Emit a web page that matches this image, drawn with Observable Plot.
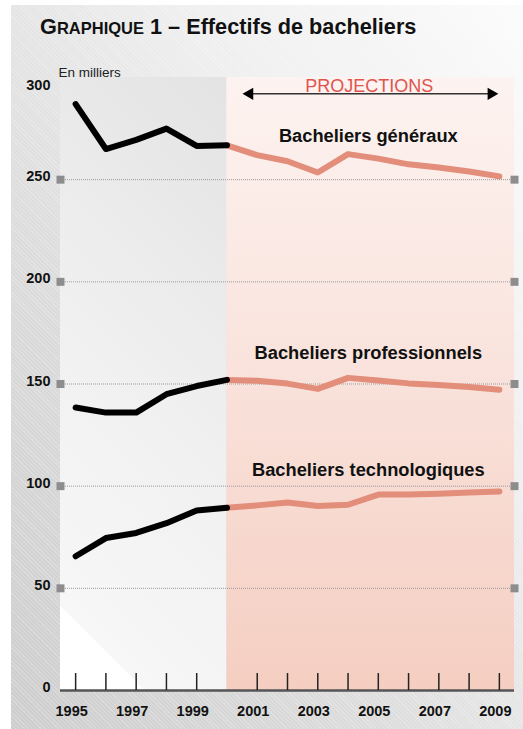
<!DOCTYPE html>
<html><head><meta charset="utf-8">
<script src="https://cdn.jsdelivr.net/npm/d3@7"></script>
<script src="https://cdn.jsdelivr.net/npm/@observablehq/plot@0.6"></script>
<style>
body{margin:0;background:#fff;}
#wrap{position:relative;width:523px;height:729px;overflow:hidden;font-family:"Liberation Sans",Arial,sans-serif;}
#panel{position:absolute;left:11px;top:5px;right:0;bottom:0;
 background: repeating-linear-gradient(45deg, rgba(255,255,255,0.22) 0 1px, rgba(255,255,255,0) 1px 3px),
             linear-gradient(to top right, #cdcdcd 0%, #dcdcdc 35%, #eeeeee 65%, #fbfbfb 100%);}
#title{position:absolute;left:40px;top:15px;font-weight:bold;font-size:21.7px;line-height:24px;color:#111;white-space:nowrap;}
#title .sc{font-size:16.5px;}
#chart{position:absolute;left:0;top:40px;}
</style></head>
<body>
<div id="wrap">
 <div id="panel"></div>
 <div id="title">G<span class="sc">RAPHIQUE</span> 1 – Effectifs de bacheliers</div>
 <div id="chart"></div>
</div>
<script>
// ---- data ----
const years = [1995,1996,1997,1998,1999,2000,2001,2002,2003,2004,2005,2006,2007,2008,2009];
const projectionStart = 2000;
const generaux       = [287, 265, 269.5, 275, 266.5, 266.8, 262, 259, 253.5, 262.5, 260.3, 257.5, 256, 254, 251.6];
const professionnels = [138.5, 136, 136, 145, 149, 152, 151.6, 150.2, 147.6, 153, 151.7, 150.3, 149.5, 148.5, 147.2];
const technologiques = [65.7, 74.6, 77.1, 81.9, 88.1, 89.4, 90.6, 92, 90.3, 90.9, 95.9, 95.9, 96.3, 96.9, 97.4];
const seriesNames = ["Bacheliers généraux", "Bacheliers professionnels", "Bacheliers technologiques"];
const gridValues = [50, 100, 150, 200, 250];
const yTickLabels = [0, 50, 100, 150, 200, 250];
const yTopLabel = [300];
const xTickYears = [1995,1996,1997,1998,1999,2001,2002,2003,2004,2005,2006,2007,2008,2009];
const xLabelYears = [1995,1997,1999,2001,2003,2005,2007,2009];
const unitLabel = "En milliers";
const projLabel = "PROJECTIONS";

// ---- table ----
const seriesValues = [generaux, professionnels, technologiques];
const data = [];
seriesNames.forEach((name, s) => years.forEach((yr, i) => data.push({serie: name, year: yr, value: seriesValues[s][i]})));
const hist = data.filter(d => d.year <= projectionStart);
const proj = data.filter(d => d.year >= projectionStart);

const xDomain = [1994.5, 2009.5];
const yDomain = [0, 300];

const defs = (index, scales) => {
  const d = d3.create("svg:defs");
  const x0 = scales.x(xDomain[0]), y0 = scales.y(yDomain[0]);
  const x1 = scales.x(projectionStart), y1 = scales.y(yDomain[1]);
  const L = ((x1 - x0) + (y0 - y1)) / Math.SQRT2;
  const g1 = d.append("linearGradient").attr("id", "histGrad").attr("gradientUnits", "userSpaceOnUse")
    .attr("x1", x0).attr("y1", y0).attr("x2", x0 + L / Math.SQRT2).attr("y2", y0 - L / Math.SQRT2);
  const w = 60 / L;
  [[0,"#ffffff"],[w,"#ffffff"],[w,"#f7f7f7"],[0.5,"#f0f0f0"],[1,"#e3e3e3"]].forEach(([o,c]) => g1.append("stop").attr("offset", o).attr("stop-color", c));
  const g2 = d.append("linearGradient").attr("id", "projGrad").attr("x1", 0).attr("y1", 0).attr("x2", 0).attr("y2", 1);
  [[0,"#fdf3f0"],[0.5,"#f9e2db"],[1,"#f5cec1"]].forEach(([o,c]) => g2.append("stop").attr("offset", o).attr("stop-color", c));
  return d.node();
};

const labelX = 2004.67;
const tickFont = {fontWeight: "bold", fontSize: 14.5, fill: "#111"};
const chart = Plot.plot({
  width: 523, height: 689,
  marginLeft: 60, marginRight: 9, marginTop: 37, marginBottom: 39,
  x: {domain: xDomain, axis: null},
  y: {domain: yDomain, axis: null},
  style: {background: "transparent", fontFamily: "Liberation Sans, Arial, sans-serif", overflow: "visible", color: "#111"},
  marks: [
    defs,
    Plot.rect([{a: xDomain[0], b: projectionStart}], {x1: "a", x2: "b", y1: yDomain[0], y2: yDomain[1], fill: "url(#histGrad)"}),
    Plot.rect([{a: projectionStart, b: xDomain[1]}], {x1: "a", x2: "b", y1: yDomain[0], y2: yDomain[1], fill: "url(#projGrad)"}),
    Plot.ruleY(gridValues, {y: d => d, stroke: "#9a9a9a", strokeWidth: 1, strokeDasharray: "1,1", insetLeft: 5, insetRight: 4}),
    Plot.dot(gridValues, {x: xDomain[0], y: d => d, symbol: "square", r: 4.5, fill: "#8d8d8d"}),
    Plot.dot(gridValues, {x: xDomain[1], y: d => d, symbol: "square", r: 4.5, fill: "#8d8d8d"}),
    Plot.ruleY([0], {stroke: "#555", strokeWidth: 2.5}),
    Plot.ruleX(xTickYears, {x: d => d, y1: 0, y2: 8.3, stroke: "#222", strokeWidth: 1.5}),
    Plot.text(yTickLabels, {x: xDomain[0], y: d => d, text: d => String(d), textAnchor: "end", dx: -10, dy: -3, ...tickFont}),
    Plot.text(yTopLabel, {x: xDomain[0], y: d => d, text: d => String(d), textAnchor: "end", dx: -10, dy: 8, ...tickFont}),
    Plot.text(xLabelYears, {x: d => d, y: yDomain[0], text: d => String(d), dx: -4, dy: 21, ...tickFont}),
    Plot.line(proj, {x: "year", y: "value", z: "serie", stroke: "#e38d7b", strokeWidth: 6, strokeLinejoin: "round", strokeLinecap: "round"}),
    Plot.line(hist, {x: "year", y: "value", z: "serie", stroke: "#000", strokeWidth: 6, strokeLinejoin: "round", strokeLinecap: "round"}),
    Plot.text([seriesNames[0]], {x: labelX, y: 271.2, text: d => d, fontWeight: "bold", fontSize: 18.3, fill: "#111"}),
    Plot.text([seriesNames[1]], {x: labelX, y: 165, text: d => d, fontWeight: "bold", fontSize: 18.3, fill: "#111"}),
    Plot.text([seriesNames[2]], {x: labelX, y: 107.7, text: d => d, fontWeight: "bold", fontSize: 18.3, fill: "#111"}),
    Plot.text([unitLabel], {x: xDomain[0], y: yDomain[1], text: d => d, textAnchor: "start", dx: -2, dy: -4.5, fontSize: 13.5, fill: "#222"}),
    Plot.link([0], {x1: 2000.75, x2: 2008.73, y1: 292, y2: 292, stroke: "#333", strokeWidth: 1.5}),
    Plot.dot([{x: 2000.75, a: -90}, {x: 2008.73, a: 90}], {x: "x", y: 292, symbol: "triangle", rotate: "a", r: 4.6, fill: "#000"}),
    Plot.text([projLabel], {x: 2004.7, y: 295.5, text: d => d, fontSize: 18, fontFamily: "Liberation Sans Narrow, Liberation Sans, sans-serif", fill: "#e05450"})
  ]
});
document.getElementById("chart").appendChild(chart);
</script>
</body></html>
